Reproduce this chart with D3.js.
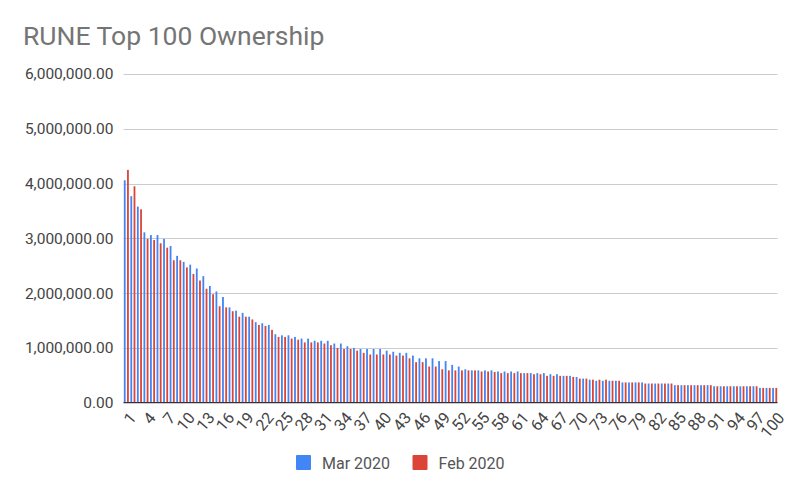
<!DOCTYPE html>
<html>
<head>
<script src="https://d3js.org/d3.v7.min.js"></script>
<style>
  body {margin: 0; background: #fff; font-family: Roboto, "Noto Sans", sans-serif;}
  .axis .domain {display: none;}
  .axis text {fill: #444; font-family: Roboto, sans-serif;}
</style>
</head>
<body>
<svg id="chart" width="800" height="495"></svg>
<script>
// ranks 1..100
var categories = d3.range(1, 101);

// x labels shown every third rank
var xLabels = [1, 4, 7, 10, 13, 16, 19, 22, 25, 28, 31, 34, 37, 40, 43, 46, 49, 52, 55, 58,
  61, 64, 67, 70, 73, 76, 79, 82, 85, 88, 91, 94, 97, 100];

var yTicks = [0, 1000000, 2000000, 3000000, 4000000, 5000000, 6000000];

var seriesNames = ["Mar 2020", "Feb 2020"];

var mar2020 = [
  4060000, 3770000, 3580000, 3110000, 3060000, 3060000, 2990000, 2860000, 2680000, 2570000,
  2520000, 2450000, 2310000, 2130000, 2030000, 1930000, 1740000, 1680000, 1640000, 1570000,
  1470000, 1450000, 1420000, 1250000, 1230000, 1230000, 1200000, 1170000, 1170000, 1130000,
  1130000, 1130000, 1080000, 1080000, 1030000, 1000000, 980000, 980000, 980000, 980000,
  950000, 930000, 910000, 910000, 860000, 810000, 810000, 810000, 760000, 760000,
  690000, 660000, 610000, 590000, 590000, 590000, 590000, 570000, 570000, 570000,
  570000, 540000, 540000, 540000, 540000, 520000, 520000, 490000, 490000, 470000,
  440000, 420000, 400000, 400000, 400000, 400000, 370000, 370000, 370000, 370000,
  350000, 350000, 350000, 350000, 320000, 320000, 320000, 320000, 320000, 320000,
  300000, 300000, 300000, 300000, 300000, 300000, 300000, 270000, 270000, 270000
];

var feb2020 = [
  4250000, 3950000, 3530000, 2990000, 2970000, 2910000, 2830000, 2600000, 2600000, 2470000,
  2350000, 2230000, 2080000, 1980000, 1760000, 1740000, 1670000, 1570000, 1570000, 1520000,
  1420000, 1400000, 1330000, 1200000, 1200000, 1170000, 1150000, 1100000, 1100000, 1100000,
  1080000, 1050000, 1000000, 980000, 980000, 950000, 910000, 880000, 880000, 880000,
  880000, 860000, 860000, 810000, 740000, 740000, 660000, 660000, 610000, 590000,
  590000, 590000, 590000, 590000, 570000, 570000, 560000, 540000, 540000, 540000,
  540000, 540000, 520000, 520000, 490000, 490000, 490000, 490000, 470000, 440000,
  440000, 420000, 420000, 420000, 400000, 400000, 370000, 370000, 370000, 350000,
  350000, 350000, 350000, 350000, 320000, 320000, 320000, 320000, 320000, 320000,
  300000, 300000, 300000, 300000, 300000, 300000, 300000, 270000, 270000, 270000
];

var colors = ["#4285f4", "#db4437"];

var svg = d3.select("#chart");
var plotLeft = 123.5, plotRight = 777.5, plotTop = 74, plotBottom = 402.7;

var x0 = d3.scaleBand()
    .domain(categories)
    .range([plotLeft, plotRight])
    .paddingInner(0.235)
    .paddingOuter(0.05);

var x1 = d3.scaleBand()
    .domain(seriesNames)
    .range([0, x0.bandwidth()])
    .paddingInner(0.44);

var y = d3.scaleLinear()
    .domain([0, 6000000])
    .range([plotBottom, plotTop]);

var color = d3.scaleOrdinal().domain(seriesNames).range(colors);

// title
svg.append("text")
    .attr("x", 23)
    .attr("y", 45)
    .attr("font-size", "26.5px")
    .attr("fill", "#757575")
    .text("RUNE Top 100 Ownership");

// gridlines
svg.append("g")
    .selectAll("line")
    .data(yTicks.slice(1))
    .enter().append("line")
    .attr("x1", plotLeft)
    .attr("x2", plotRight)
    .attr("y1", function(d) { return Math.round(y(d)) + 0.5; })
    .attr("y2", function(d) { return Math.round(y(d)) + 0.5; })
    .attr("stroke", "#cccccc")
    .attr("stroke-width", 1);

// y axis
svg.append("g")
    .attr("class", "axis")
    .attr("transform", "translate(" + (plotLeft - 10) + ",0)")
    .call(d3.axisLeft(y).tickValues(yTicks).tickSize(0).tickPadding(0).tickFormat(d3.format(",.2f")))
    .selectAll("text")
    .attr("font-size", "15.5px");

// bars
var rows = categories.map(function(c, i) {
  return {cat: c, values: [{key: seriesNames[0], value: mar2020[i]}, {key: seriesNames[1], value: feb2020[i]}]};
});

svg.append("g")
    .selectAll("g")
    .data(rows)
    .enter().append("g")
    .attr("transform", function(d) { return "translate(" + x0(d.cat) + ",0)"; })
    .selectAll("rect")
    .data(function(d) { return d.values; })
    .enter().append("rect")
    .attr("x", function(d) { return x1(d.key); })
    .attr("y", function(d) { return y(d.value); })
    .attr("width", x1.bandwidth())
    .attr("height", function(d) { return plotBottom - y(d.value); })
    .attr("fill", function(d) { return color(d.key); });

// baseline
svg.append("line")
    .attr("x1", plotLeft)
    .attr("x2", plotRight)
    .attr("y1", plotBottom)
    .attr("y2", plotBottom)
    .attr("stroke", "#333")
    .attr("stroke-width", 1.2);

// x axis
svg.append("g")
    .attr("class", "axis")
    .attr("transform", "translate(0," + plotBottom + ")")
    .call(d3.axisBottom(x0).tickValues(xLabels).tickSize(0))
    .selectAll("text")
    .attr("font-size", "16px")
    .attr("text-anchor", "end")
    .attr("dy", "0.35em")
    .attr("transform", "translate(4,10) rotate(-50)");

// legend
var legend = svg.append("g")
    .selectAll("g")
    .data(seriesNames)
    .enter().append("g")
    .attr("transform", function(d, i) { return "translate(" + (296 + i * 116.5) + ",455)"; });

legend.append("rect")
    .attr("width", 15)
    .attr("height", 15)
    .attr("rx", 1)
    .attr("fill", color);

legend.append("text")
    .attr("x", 26)
    .attr("y", 8)
    .attr("dy", "0.35em")
    .attr("font-size", "16px")
    .attr("fill", "#555")
    .text(function(d) { return d; });
</script>
</body>
</html>
